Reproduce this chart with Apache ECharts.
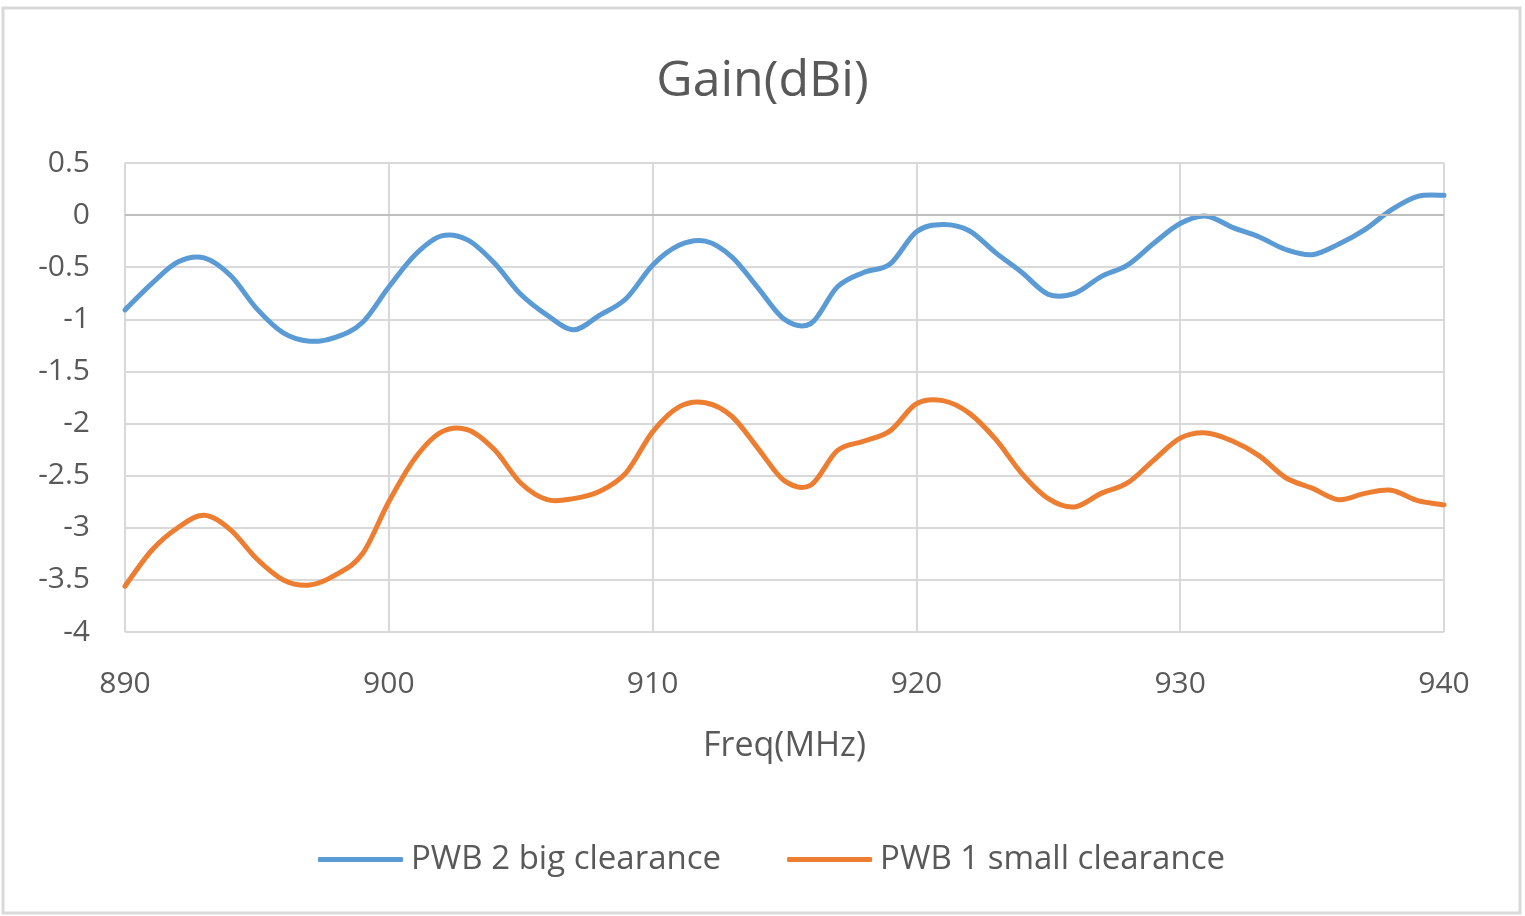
<!DOCTYPE html>
<html>
<head>
<meta charset="utf-8">
<script src="https://cdn.jsdelivr.net/npm/echarts@6/dist/echarts.min.js"></script>
<style>
html,body{margin:0;padding:0;background:#fff;}
#c{width:1525px;height:916px;}
</style>
</head>
<body>
<div id="c"></div>
<script>
const freqs = [890,891,892,893,894,895,896,897,898,899,900,901,902,903,904,905,906,907,908,909,910,911,912,913,914,915,916,917,918,919,920,921,922,923,924,925,926,927,928,929,930,931,932,933,934,935,936,937,938,939,940];
const pwb2Big = [-0.91,-0.66,-0.45,-0.41,-0.58,-0.90,-1.13,-1.21,-1.17,-1.03,-0.69,-0.38,-0.20,-0.24,-0.46,-0.76,-0.96,-1.10,-0.96,-0.80,-0.48,-0.29,-0.25,-0.40,-0.70,-1.00,-1.04,-0.69,-0.55,-0.47,-0.16,-0.09,-0.15,-0.36,-0.55,-0.76,-0.75,-0.59,-0.48,-0.27,-0.08,-0.01,-0.12,-0.21,-0.33,-0.38,-0.28,-0.14,0.05,0.18,0.19];
const pwb1Small = [-3.56,-3.22,-3.00,-2.88,-3.02,-3.30,-3.50,-3.55,-3.45,-3.25,-2.75,-2.33,-2.08,-2.06,-2.25,-2.57,-2.73,-2.72,-2.65,-2.47,-2.08,-1.84,-1.80,-1.93,-2.24,-2.55,-2.59,-2.26,-2.17,-2.07,-1.81,-1.78,-1.90,-2.15,-2.48,-2.72,-2.80,-2.67,-2.57,-2.35,-2.14,-2.09,-2.17,-2.31,-2.52,-2.62,-2.73,-2.67,-2.64,-2.74,-2.78];
const seriesNames = ['PWB 2 big clearance','PWB 1 small clearance'];
const titleText = 'Gain(dBi)';
const xName = 'Freq(MHz)';

const FONT = '"Open Sans", "Noto Sans", sans-serif';
const TXT = '#595959';
const BLUE = '#5B9BD5', ORANGE = '#ED7D31';

function pairs(ys){ return freqs.map((f,i)=>[f, ys[i]]); }

// smooth curve through the data points, positioned by the chart's own axes (api.coord)
function makeRender(ys, color){
  return function(params, api){
    if (params.dataIndex !== 0) return null;
    const p = freqs.map((f,i)=>api.coord([f, ys[i]]));
    let d = 'M' + p[0][0] + ' ' + p[0][1];
    const t = 1/6;
    for (let i = 0; i < p.length - 1; i++){
      const p0 = p[Math.max(i-1,0)], p1 = p[i], p2 = p[i+1], p3 = p[Math.min(i+2,p.length-1)];
      const c1x = p1[0] + (p2[0]-p0[0])*t, c1y = p1[1] + (p2[1]-p0[1])*t;
      const c2x = p2[0] - (p3[0]-p1[0])*t, c2y = p2[1] - (p3[1]-p1[1])*t;
      d += ' C' + c1x + ' ' + c1y + ' ' + c2x + ' ' + c2y + ' ' + p2[0] + ' ' + p2[1];
    }
    return {
      type:'path',
      shape:{pathData:d},
      style:{fill:null, stroke:color, lineWidth:5, lineCap:'round', lineJoin:'round'}
    };
  };
}

const chart = echarts.init(document.getElementById('c'));
chart.setOption({
  animation:false,
  backgroundColor:'#fff',
  graphic:[{
    type:'rect', silent:true, z:-10,
    shape:{x:3,y:8,width:1517,height:905},
    style:{fill:'none',stroke:'#d9d9d9',lineWidth:3}
  }],
  title:{
    text:titleText, left:'center', top:57, padding:0,
    textStyle:{fontFamily:FONT,fontSize:50,fontWeight:'normal',color:TXT}
  },
  legend:{
    left:313, top:838, itemGap:66, itemWidth:85, itemHeight:5,
    icon:'roundRect',
    textStyle:{fontFamily:FONT,fontSize:33,color:TXT,padding:[0,0,0,3]},
    data:seriesNames
  },
  grid:{left:125,right:81,top:163,bottom:284,containLabel:false},
  xAxis:{
    type:'value', min:890, max:940, interval:10,
    name:xName, nameLocation:'middle', nameGap:97,
    nameTextStyle:{fontFamily:FONT,fontSize:34,color:TXT},
    axisLine:{show:false}, axisTick:{show:false},
    axisLabel:{fontFamily:FONT,fontSize:30,color:TXT,margin:37},
    splitLine:{show:true,lineStyle:{color:'#d9d9d9',width:2}}
  },
  yAxis:{
    type:'value', min:-4, max:0.5, interval:0.5,
    axisLine:{show:false}, axisTick:{show:false},
    axisLabel:{fontFamily:FONT,fontSize:30,color:TXT,margin:35},
    splitLine:{show:true,lineStyle:{color:'#d9d9d9',width:2}}
  },
  series:[
    {
      name:'zero', type:'line', data:[], symbol:'none',
      markLine:{
        silent:true, symbol:'none', label:{show:false}, animation:false,
        lineStyle:{color:'#bfbfbf',width:2,type:'solid'},
        data:[{yAxis:0}]
      },
      z:2
    },
    {
      name:seriesNames[0], type:'custom', data:pairs(pwb2Big),
      encode:{x:0,y:1}, color:BLUE, itemStyle:{color:BLUE},
      renderItem:makeRender(pwb2Big, BLUE), z:3, silent:true
    },
    {
      name:seriesNames[1], type:'custom', data:pairs(pwb1Small),
      encode:{x:0,y:1}, color:ORANGE, itemStyle:{color:ORANGE},
      renderItem:makeRender(pwb1Small, ORANGE), z:3, silent:true
    }
  ]
});
</script>
</body>
</html>
